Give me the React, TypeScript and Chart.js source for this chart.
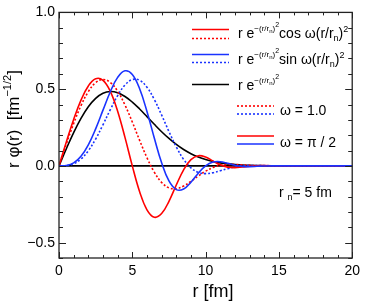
import React, { useEffect, useRef } from "react";
import { Chart, registerables } from "chart.js";
Chart.register(...registerables);

// radius r [fm]
const rValues = [0, 0.5, 1, 1.5, 2, 2.5, 3, 3.5, 4, 4.5, 5, 5.5, 6, 6.5, 7, 7.5, 8, 8.5, 9, 9.5, 10, 10.5, 11, 11.5, 12, 12.5, 13, 13.5, 14, 15, 16, 17, 18, 19, 20];
// r e^{-(r/rn)^2}
const gaussOnly = [0, 0.1119, 0.2171, 0.3098, 0.3852, 0.44, 0.473, 0.4846, 0.4767, 0.4524, 0.4157, 0.3707, 0.3213, 0.2711, 0.2228, 0.1787, 0.1398, 0.1068, 0.0797, 0.0581, 0.0414, 0.0288, 0.0197, 0.0131, 0.0085, 0.0055, 0.0034, 0.0021, 0.0012, 0.0004, 0, 0, 0, 0, 0];
// cos, omega = 1.0 (red dotted)
const cosOmega1 = [0, 0.1423, 0.276, 0.3925, 0.4837, 0.5424, 0.5632, 0.5439, 0.4864, 0.3968, 0.2857, 0.1661, 0.0533, -0.0409, -0.1077, -0.1428, -0.1484, -0.1315, -0.1008, -0.0659, -0.0344, -0.0109, 0.0032, 0.0091, 0.0094, 0.0069, 0.0038, 0.0014, 0, 0, 0, 0, 0, 0, 0];
// sin, omega = 1.0 (blue dotted)
const sinOmega1 = [0, 0.0018, 0.014, 0.0448, 0.0987, 0.175, 0.2679, 0.3667, 0.4577, 0.5269, 0.5625, 0.5576, 0.5122, 0.4328, 0.3315, 0.2235, 0.1235, 0.0427, -0.0126, -0.0422, -0.0504, -0.0443, -0.0314, -0.0176, -0.0069, -0.0003, 0.0025, 0.0028, 0.002, 0.0004, 0, 0, 0, 0, 0];
// cos, omega = pi/2 (red solid)
const cosOmegaHalfPi = [0, 0.1562, 0.3026, 0.4283, 0.521, 0.5677, 0.5577, 0.486, 0.3567, 0.1858, 0, -0.1677, -0.286, -0.3342, -0.3106, -0.2305, -0.1244, -0.0256, 0.0409, 0.0664, 0.0578, 0.0322, 0.0068, -0.008, -0.0111, -0.007, -0.0018, 0.0013, 0.0017, 0, 0, 0, 0, 0, 0];
// sin, omega = pi/2 (blue solid)
const sinOmegaHalfPi = [0, 0.0025, 0.0195, 0.0625, 0.1372, 0.2413, 0.3632, 0.4832, 0.5766, 0.6196, 0.5956, 0.5024, 0.3547, 0.1817, 0.02, -0.098, -0.1543, -0.1507, -0.1061, -0.0478, 0, 0.0248, 0.0273, 0.0169, 0.0045, -0.003, -0.0045, -0.0027, -0.0004, 0, 0, 0, 0, 0, 0];
const zeroLineX = [0, 20];
const zeroLineY = [0, 0];

const xMin = 0, xMax = 20, xMajor = 5, xMinor = 1;
const yMin = -0.6, yMax = 1.0, yMajor = 0.5, yMinor = 0.1;

const RED = "#ff0000";
const BLUE = "#1a33ff";
const FONT = "'Liberation Sans', Arial, Helvetica, sans-serif";

type Seg = { t: string; s: number; dy: number };

function drawSegs(ctx: CanvasRenderingContext2D, x: number, y: number, segs: Seg[]) {
  let cx = x;
  for (const g of segs) {
    ctx.font = `${g.s}px ${FONT}`;
    ctx.fillText(g.t, cx, y + g.dy);
    cx += ctx.measureText(g.t).width;
  }
}

const expSegs: Seg[] = [
  { t: "\u2212(r/r", s: 8, dy: -7 },
  { t: "n", s: 6, dy: -5 },
  { t: ")", s: 8, dy: -7 },
  { t: "2", s: 7, dy: -11 },
];

function line(ctx: CanvasRenderingContext2D, x1: number, x2: number, y: number, color: string, dotted: boolean) {
  ctx.save();
  ctx.strokeStyle = color;
  ctx.lineWidth = 1.6;
  ctx.setLineDash(dotted ? [2, 2] : []);
  ctx.beginPath();
  ctx.moveTo(x1, y);
  ctx.lineTo(x2, y);
  ctx.stroke();
  ctx.restore();
}

const decorPlugin = {
  id: "decor",
  afterDatasetsDraw(chart: any) {
    const ctx: CanvasRenderingContext2D = chart.ctx;
    const { left, right, top, bottom } = chart.chartArea;
    const xs = chart.scales.x;
    const ys = chart.scales.y;
    ctx.save();
    // frame
    ctx.strokeStyle = "#222";
    ctx.lineWidth = 1.3;
    ctx.strokeRect(left, top, right - left, bottom - top);
    ctx.lineWidth = 1;
    ctx.beginPath();
    for (let i = 0; i <= Math.round((xMax - xMin) / xMinor); i++) {
      const v = xMin + i * xMinor;
      const px = Math.round(xs.getPixelForValue(v)) + 0.5;
      const major = Math.abs(v / xMajor - Math.round(v / xMajor)) < 1e-6;
      const len = major ? 6 : 3;
      ctx.moveTo(px, bottom);
      ctx.lineTo(px, bottom - len);
      ctx.moveTo(px, top);
      ctx.lineTo(px, top + len);
    }
    for (let i = 0; i <= Math.round((yMax - yMin) / yMinor); i++) {
      const v = yMin + i * yMinor;
      const py = Math.round(ys.getPixelForValue(v)) + 0.5;
      const major = Math.abs(v / yMajor - Math.round(v / yMajor)) < 1e-6;
      const len = major ? 7 : 4;
      ctx.moveTo(left, py);
      ctx.lineTo(left + len, py);
      ctx.moveTo(right, py);
      ctx.lineTo(right - len, py);
    }
    ctx.stroke();

    ctx.fillStyle = "#000";
    ctx.textBaseline = "alphabetic";
    ctx.textAlign = "left";

    // legend
    line(ctx, 192, 229, 29.5, RED, false);
    line(ctx, 192, 229, 38.5, RED, true);
    drawSegs(ctx, 238, 37.5, [
      { t: "r e", s: 14, dy: 0 },
      ...expSegs,
      { t: "cos \u03c9(r/r", s: 14, dy: 0 },
      { t: "n", s: 9, dy: 3 },
      { t: ")", s: 14, dy: 0 },
      { t: "2", s: 9, dy: -6 },
    ]);
    line(ctx, 192, 229, 54.5, BLUE, false);
    line(ctx, 192, 229, 62.5, BLUE, true);
    drawSegs(ctx, 238, 63.5, [
      { t: "r e", s: 14, dy: 0 },
      ...expSegs,
      { t: "sin \u03c9(r/r", s: 14, dy: 0 },
      { t: "n", s: 9, dy: 3 },
      { t: ")", s: 14, dy: 0 },
      { t: "2", s: 9, dy: -6 },
    ]);
    line(ctx, 192, 229, 84.5, "#000", false);
    drawSegs(ctx, 238, 89.5, [{ t: "r e", s: 14, dy: 0 }, ...expSegs]);

    line(ctx, 237, 274, 106, RED, true);
    line(ctx, 237, 274, 114, BLUE, true);
    drawSegs(ctx, 280, 115, [{ t: "\u03c9 = 1.0", s: 14, dy: 0 }]);
    line(ctx, 237, 274, 136, RED, false);
    line(ctx, 237, 274, 144, BLUE, false);
    drawSegs(ctx, 280, 146.5, [{ t: "\u03c9 = \u03c0 / 2", s: 14, dy: 0 }]);

    drawSegs(ctx, 279, 197, [
      { t: "r ", s: 14, dy: 0 },
      { t: "n", s: 9, dy: 3 },
      { t: "= 5 fm", s: 14, dy: 0 },
    ]);

    // x title
    ctx.font = `18px ${FONT}`;
    ctx.textAlign = "center";
    ctx.fillText("r [fm]", 213, 297);

    // y title
    ctx.textAlign = "left";
    ctx.translate(19, 168);
    ctx.rotate(-Math.PI / 2);
    drawSegs(ctx, 0, 0, [
      { t: "r \u03c6(r)  [fm", s: 17, dy: 0 },
      { t: "\u22121/2", s: 11, dy: -8 },
      { t: "]", s: 17, dy: 0 },
    ]);
    ctx.restore();
  },
};

function pts(ys: number[]) {
  return rValues.map((x, i) => ({ x, y: ys[i] }));
}

export default function App() {
  const ref = useRef<HTMLCanvasElement | null>(null);
  useEffect(() => {
    document.body.style.margin = "0";
    if (!ref.current) return;
    const common = { pointRadius: 0, borderWidth: 1.6, tension: 0.4, fill: false };
    const chart = new Chart(ref.current, {
      type: "line",
      data: {
        datasets: [
          { ...common, data: pts(sinOmegaHalfPi), borderColor: BLUE },
          { ...common, data: pts(cosOmegaHalfPi), borderColor: RED },
          { ...common, data: pts(sinOmega1), borderColor: BLUE, borderDash: [2, 2] },
          { ...common, data: pts(cosOmega1), borderColor: RED, borderDash: [2, 2] },
          { ...common, data: pts(gaussOnly), borderColor: "#000" },
          { ...common, data: zeroLineX.map((x, i) => ({ x, y: zeroLineY[i] })), borderColor: "#000", tension: 0 },
        ],
      },
      options: {
        animation: false,
        responsive: false,
        maintainAspectRatio: false,
        layout: { padding: { left: 0, right: 12, top: 8, bottom: 0 } },
        plugins: { legend: { display: false }, tooltip: { enabled: false } },
        scales: {
          x: {
            type: "linear",
            min: xMin,
            max: xMax,
            grid: { display: false, drawTicks: false },
            border: { display: false },
            ticks: {
              stepSize: xMajor,
              color: "#000",
              font: { family: FONT, size: 14 },
              padding: 5,
              maxRotation: 0,
            },
            afterFit: (s: any) => {
              s.height = 47;
            },
          },
          y: {
            type: "linear",
            min: yMin,
            max: yMax,
            grid: { display: false, drawTicks: false },
            border: { display: false },
            ticks: {
              stepSize: yMajor,
              includeBounds: false,
              color: "#000",
              font: { family: FONT, size: 14 },
              padding: 4,
              callback: (v: any) => {
                const n = Number(v);
                if (Math.abs(n) < 1e-9) return "0.0";
                const s = Math.abs(n).toFixed(1);
                return n < 0 ? "\u2212" + s : s;
              },
            },
            afterFit: (s: any) => {
              s.width = 59;
            },
          },
        },
      },
      plugins: [decorPlugin],
    } as any);
    return () => chart.destroy();
  }, []);
  return (
    <div style={{ width: 365, height: 305 }}>
      <canvas ref={ref} width={365} height={305} style={{ display: "block" }} />
    </div>
  );
}
